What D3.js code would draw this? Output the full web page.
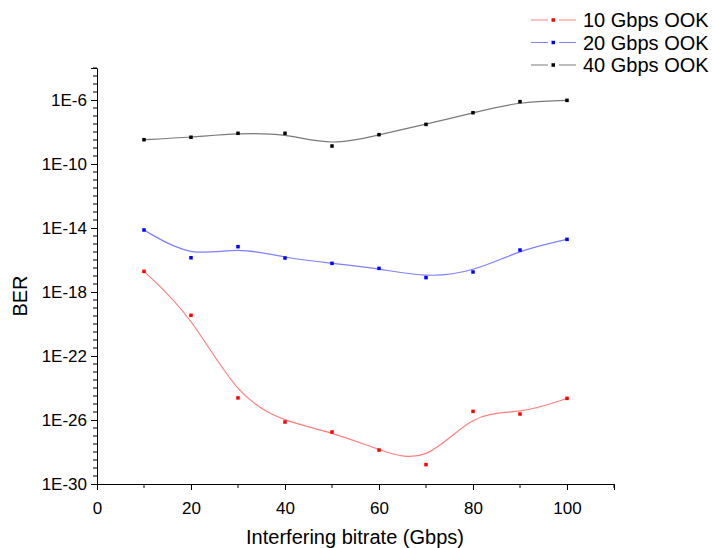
<!DOCTYPE html>
<html><head><meta charset="utf-8">
<script src="https://cdn.jsdelivr.net/npm/d3@7"></script>
<style>body{margin:0;background:#fff}svg{display:block}text{font-family:"Liberation Sans",Arial,sans-serif;fill:#000}</style>
</head><body><svg id="c" width="712" height="548"></svg>
<script>
const bitrates = [10, 20, 30, 40, 50, 60, 70, 80, 90, 100];
const ber10 = [1.95e-17, 3.5e-20, 2.4e-25, 7.5e-27, 1.78e-27, 1.33e-28, 1.62e-29, 3.47e-26, 2.37e-26, 2.24e-25];
const ber20 = [7.5e-15, 1.38e-16, 6.8e-16, 1.33e-16, 6.2e-17, 3.0e-17, 7.9e-18, 1.78e-17, 4.2e-16, 1.95e-15];
const ber40 = [3.3e-9, 4.7e-9, 8.3e-9, 8.3e-9, 1.33e-9, 6.8e-9, 3.0e-8, 1.6e-7, 7.9e-7, 9.5e-7];
const seriesNames = ["10 Gbps OOK", "20 Gbps OOK", "40 Gbps OOK"];
const yTickExps = [-30, -26, -22, -18, -14, -10, -6];
const xTicks = [0, 20, 40, 60, 80, 100];

const series = [
  {name: seriesNames[0], values: ber10, line: "#ff7f7f", mark: "#ff0000"},
  {name: seriesNames[1], values: ber20, line: "#7f7fff", mark: "#0000ff"},
  {name: seriesNames[2], values: ber40, line: "#7a7a7a", mark: "#000000"}
];

const svg = d3.select("#c");
const x = d3.scaleLinear().domain([0, 110]).range([97, 614]);
const y = d3.scaleLog().domain([1e-30, 1e-4]).range([484, 68]);

// axes
const xAxis = d3.axisBottom(x).tickValues(xTicks).tickSize(6).tickPadding(12).tickFormat(d3.format("d"));
const gx = svg.append("g").attr("transform", "translate(0,484)").call(xAxis);
gx.selectAll("text").style("font-size", "17px");
gx.append("g").selectAll("line").data(d3.range(10, 111, 20)).join("line")
  .attr("x1", d => x(d)).attr("x2", d => x(d)).attr("y1", 0).attr("y2", 4).attr("stroke", "#000");

const yAxis = d3.axisLeft(y).tickValues(yTickExps.map(e => Math.pow(10, e))).tickSize(6).tickPadding(4)
  .tickFormat(d => "1E" + Math.round(Math.log10(d)));
const gy = svg.append("g").attr("transform", "translate(97,0)").call(yAxis);
gy.selectAll("text").style("font-size", "17px");
const minorExps = d3.range(-29.5, -3.9, 0.5).filter(e => !yTickExps.includes(e));
gy.append("g").selectAll("line").data(minorExps).join("line")
  .attr("x1", 0).attr("x2", -4).attr("y1", e => y(Math.pow(10, e))).attr("y2", e => y(Math.pow(10, e))).attr("stroke", "#000");
svg.selectAll(".domain").attr("stroke", "#000");
svg.selectAll(".tick line").attr("stroke", "#000");

// titles
svg.append("text").attr("x", 355).attr("y", 544).attr("text-anchor", "middle").style("font-size", "20px").text("Interfering bitrate (Gbps)");
svg.append("text").attr("transform", "translate(27,296) rotate(-90)").attr("text-anchor", "middle").style("font-size", "20px").text("BER");

// series
const line = d3.line().x((d, i) => x(bitrates[i])).y(d => y(d)).curve(d3.curveBasis);
series.forEach(s => {
  svg.append("path").datum(s.values).attr("d", line).attr("fill", "none").attr("stroke", s.line).attr("stroke-width", 1.2);
  svg.append("g").selectAll("rect").data(s.values).join("rect")
    .attr("x", (d, i) => x(bitrates[i]) - 1.75).attr("y", d => y(d) - 1.75)
    .attr("width", 3.5).attr("height", 3.5).attr("fill", s.mark);
});

// legend
const lg = svg.append("g");
series.forEach((s, i) => {
  const cy = 20 + i * 22.5;
  lg.append("line").attr("x1", 531).attr("x2", 548).attr("y1", cy).attr("y2", cy).attr("stroke", s.line);
  lg.append("line").attr("x1", 559).attr("x2", 576).attr("y1", cy).attr("y2", cy).attr("stroke", s.line);
  lg.append("rect").attr("x", 551.5).attr("y", cy - 1.75).attr("width", 3.5).attr("height", 3.5).attr("fill", s.mark);
  lg.append("text").attr("x", 583).attr("y", cy + 7).style("font-size", "20px").text(s.name);
});
</script></body></html>
